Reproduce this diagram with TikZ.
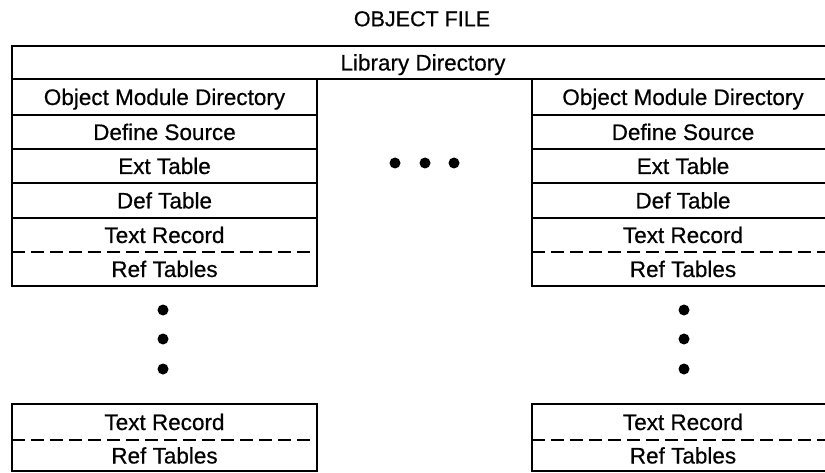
\documentclass[tikz,border=0pt]{standalone}
\usepackage{fontspec}
\setmainfont{Liberation Sans}
\newfontfamily\cellfont{Liberation Sans}[FakeBold=0.5]
\begin{document}
\begin{tikzpicture}[x=1pt,y=-1pt,
  cell/.style={minimum height=#1, text height=16pt, text depth=0pt, inner sep=0pt, font=\cellfont\fontsize{22.5}{27}\selectfont},
  lcell/.style={cell=#1, minimum width=305pt},
  rcell/.style={cell=#1, minimum width=302pt},
  frame/.style={line width=1.8pt},
  sep/.style={line width=1.5pt, dash pattern=on 13pt off 6pt},
  dot/.style={circle, fill=black, inner sep=0pt, minimum size=11pt}]
\useasboundingbox (0,0) rectangle (825,473);
\clip (0,0) rectangle (825,473);

\node[font=\cellfont\fontsize{21.5}{26}\selectfont, text height=15.5pt, text depth=0pt, inner sep=0pt] (title) at (422,18.5) {OBJECT FILE};

\node[cell=33pt, minimum width=822pt] (lib) at (423,62.5) {Library Directory};
\draw[frame] (lib.north west) rectangle (lib.south east);

% left column
\node[lcell=36pt] (omdL) at (164.5,97) {Object Module Directory};
\node[lcell=34pt] (dsL) at (164.5,132) {Define Source};
\node[lcell=34pt] (extL) at (164.5,166) {Ext Table};
\node[lcell=35pt] (defL) at (164.5,200.5) {Def Table};
\node[lcell=34pt] (trL) at (164.5,235) {Text Record};
\node[lcell=34pt] (refL) at (164.5,269) {Ref Tables};
\draw[frame] (omdL.north west) rectangle (refL.south east);
\foreach \n in {omdL,dsL,extL,defL}
  \draw[frame] (\n.south west) -- (\n.south east);
\draw[sep] (trL.south west) -- (trL.south east);

% right column
\node[rcell=36pt] (omdR) at (683,97) {Object Module Directory};
\node[rcell=34pt] (dsR) at (683,132) {Define Source};
\node[rcell=34pt] (extR) at (683,166) {Ext Table};
\node[rcell=35pt] (defR) at (683,200.5) {Def Table};
\node[rcell=34pt] (trR) at (683,235) {Text Record};
\node[rcell=34pt] (refR) at (683,269) {Ref Tables};
\draw[frame] (omdR.north west) rectangle (refR.south east);
\foreach \n in {omdR,dsR,extR,defR}
  \draw[frame] (\n.south west) -- (\n.south east);
\draw[sep] (trR.south west) -- (trR.south east);

% dots
\node[dot] (dm1) at (395,163) {};
\node[dot] (dm2) at (425,163) {};
\node[dot] (dm3) at (454,163) {};
\node[dot] (dl1) at (163,310) {};
\node[dot] (dl2) at (163,339) {};
\node[dot] (dl3) at (163,369) {};
\node[dot] (dr1) at (684,310) {};
\node[dot] (dr2) at (684,339) {};
\node[dot] (dr3) at (684,369) {};

% bottom boxes
\node[lcell=36pt] (btrL) at (164.5,422) {Text Record};
\node[lcell=31pt] (brefL) at (164.5,455.5) {Ref Tables};
\draw[frame] (btrL.north west) rectangle (brefL.south east);
\draw[sep] (btrL.south west) -- (btrL.south east);

\node[rcell=36pt] (btrR) at (683,422) {Text Record};
\node[rcell=31pt] (brefR) at (683,455.5) {Ref Tables};
\draw[frame] (btrR.north west) rectangle (brefR.south east);
\draw[sep] (btrR.south west) -- (btrR.south east);
\end{tikzpicture}
\end{document}
